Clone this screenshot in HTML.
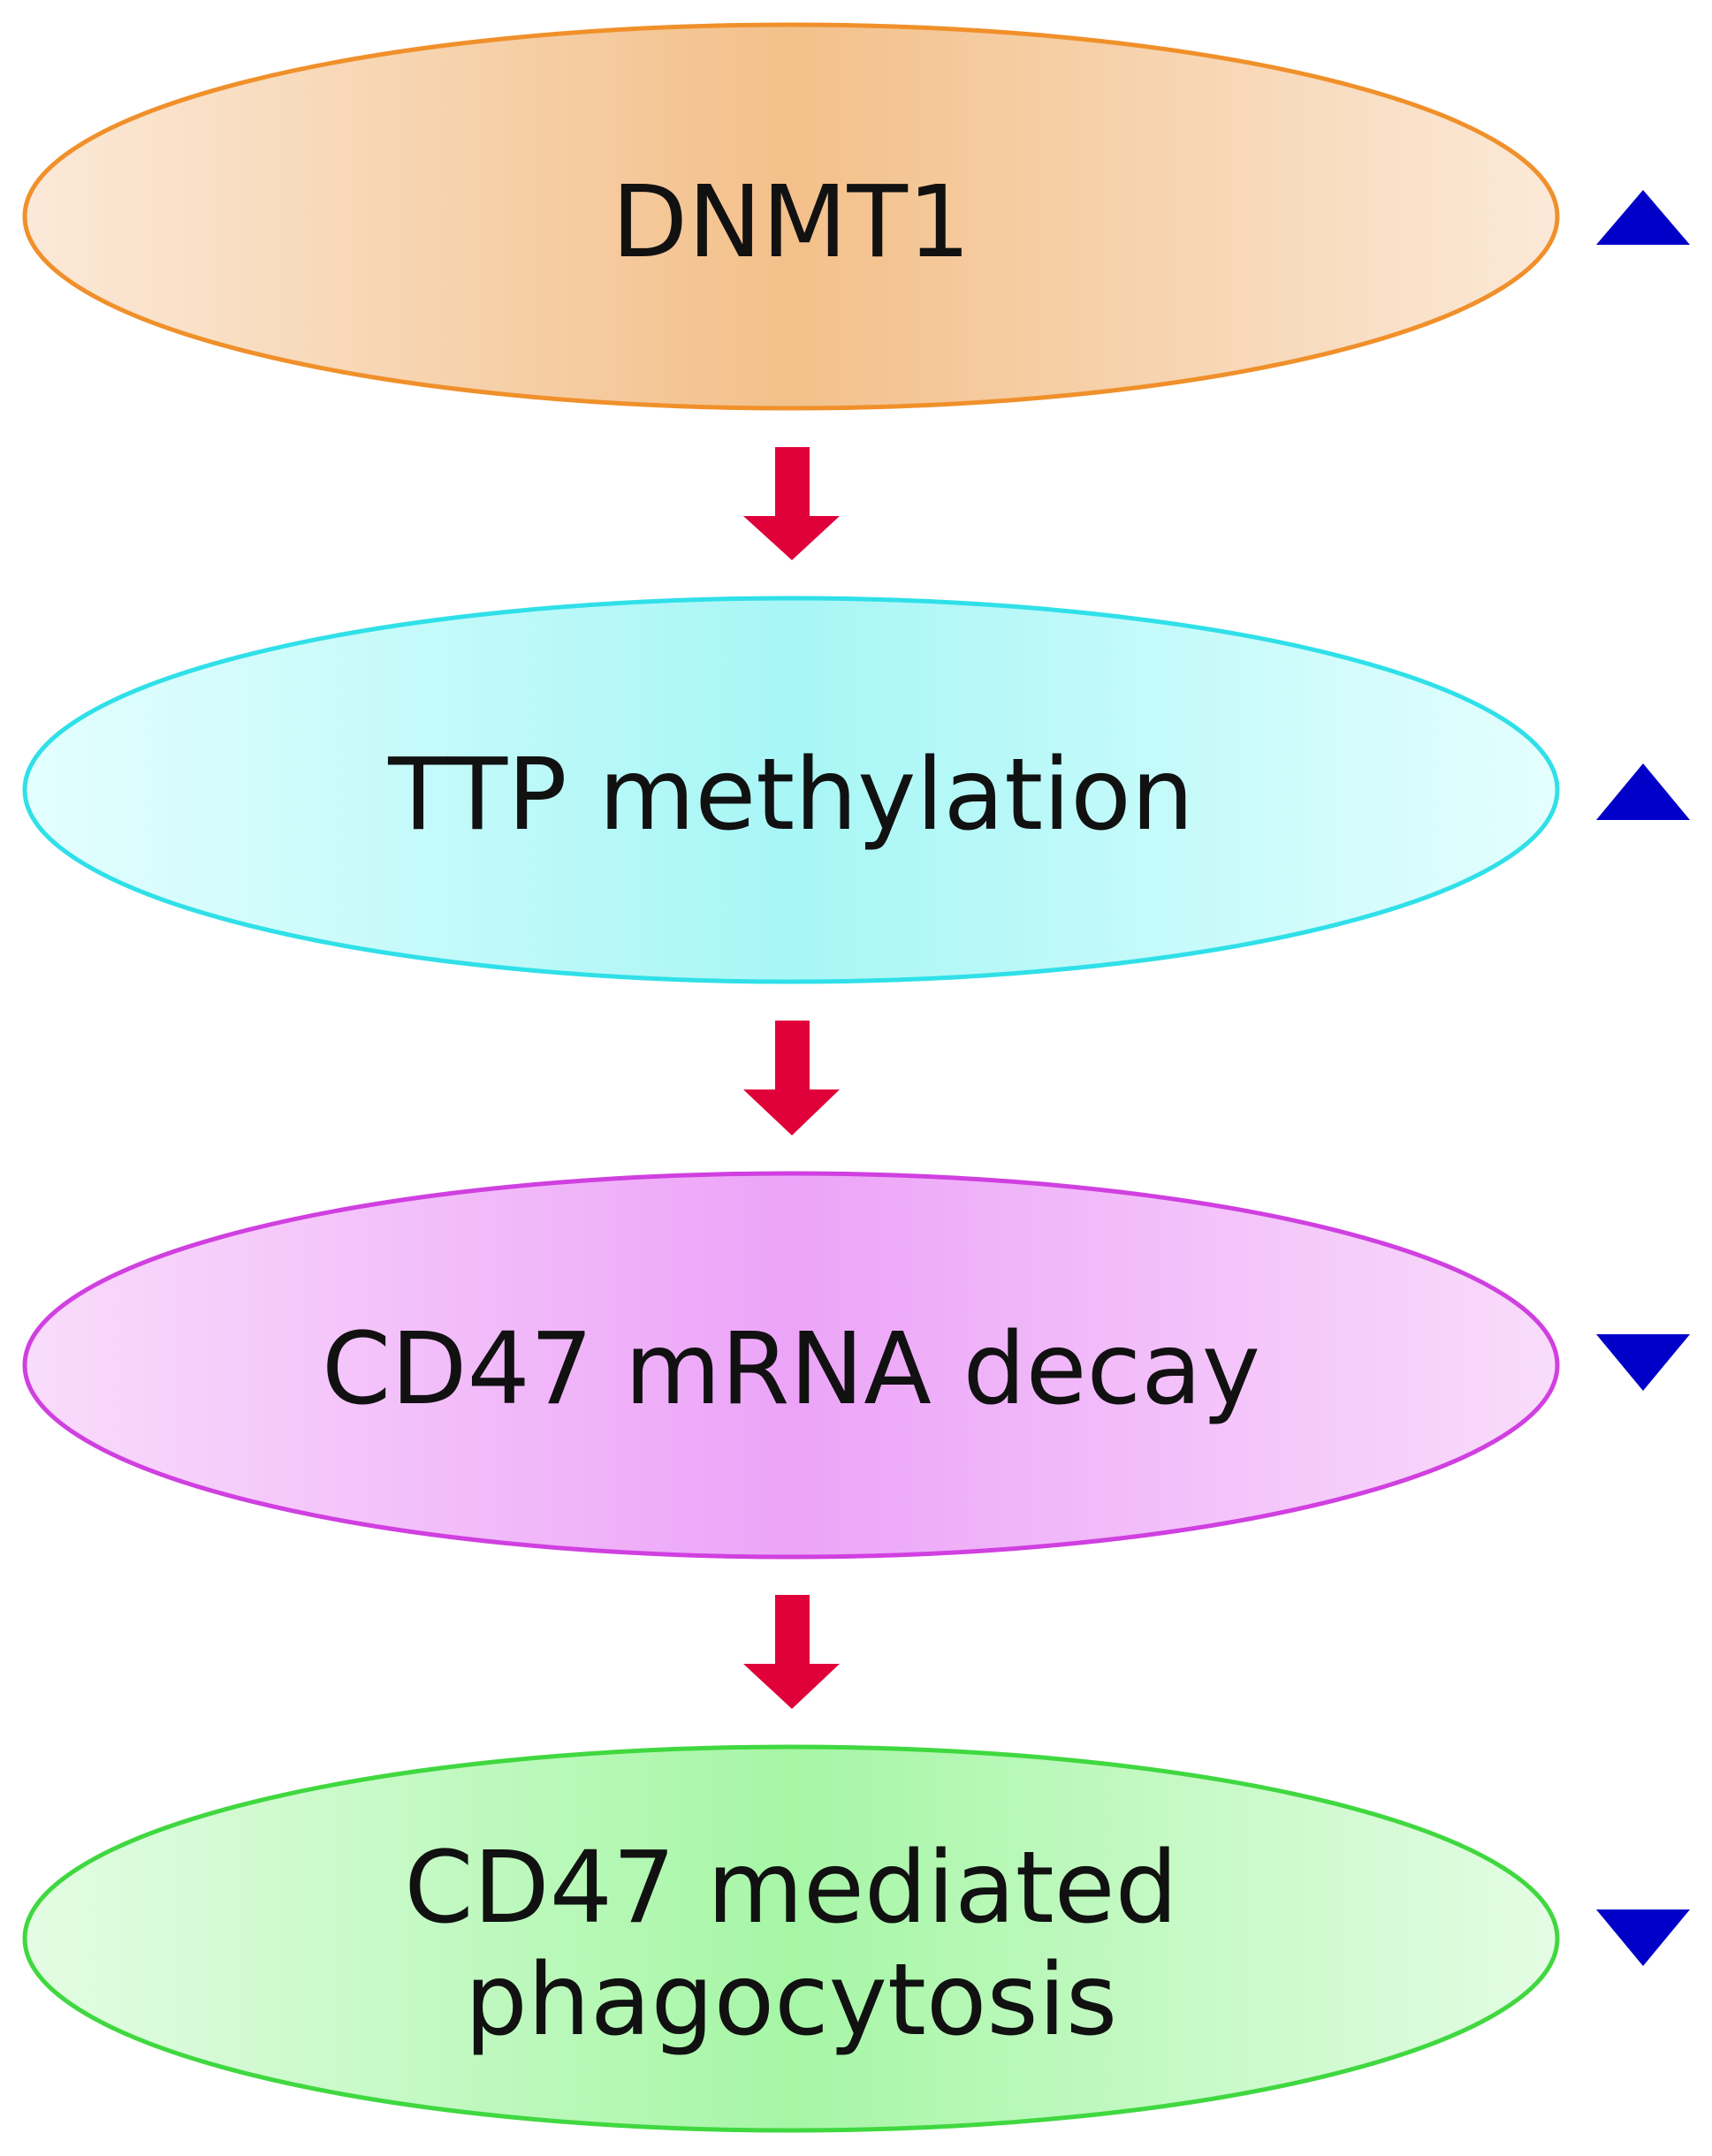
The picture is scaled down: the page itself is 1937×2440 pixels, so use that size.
<!DOCTYPE html>
<html><head><meta charset="utf-8"><style>html,body{margin:0;padding:0;background:#fff}svg{display:block}</style></head><body>
<svg width="1937" height="2440" viewBox="0 0 1937 2440" xmlns="http://www.w3.org/2000/svg">
<defs>
<linearGradient id="g1" x1="0" x2="1" y1="0" y2="0"><stop offset="0" stop-color="#fbe9d8"/><stop offset="0.5" stop-color="#f3c08a"/><stop offset="1" stop-color="#fbe9d8"/></linearGradient>
<linearGradient id="g2" x1="0" x2="1" y1="0" y2="0"><stop offset="0" stop-color="#e4fefe"/><stop offset="0.5" stop-color="#a8f6f6"/><stop offset="1" stop-color="#e4fefe"/></linearGradient>
<linearGradient id="g3" x1="0" x2="1" y1="0" y2="0"><stop offset="0" stop-color="#f9dcfb"/><stop offset="0.5" stop-color="#eca4f8"/><stop offset="1" stop-color="#f9dcfb"/></linearGradient>
<linearGradient id="g4" x1="0" x2="1" y1="0" y2="0"><stop offset="0" stop-color="#e4fce4"/><stop offset="0.5" stop-color="#a6f6a6"/><stop offset="1" stop-color="#e4fce4"/></linearGradient>
</defs>
<g stroke-width="5">
<ellipse cx="895" cy="245" rx="867" ry="217" fill="url(#g1)" stroke="#f0902a"/>
<ellipse cx="895" cy="894" rx="867" ry="217" fill="url(#g2)" stroke="#30e0e8"/>
<ellipse cx="895" cy="1545" rx="867" ry="217" fill="url(#g3)" stroke="#d040e0"/>
<ellipse cx="895" cy="2194" rx="867" ry="217" fill="url(#g4)" stroke="#40d840"/>
</g>
<g fill="#e0003a">
<polygon points="877,506 916,506 916,584 950,584 896,634 841,584 877,584"/>
<polygon points="877,1155 916,1155 916,1233 950,1233 896,1285 841,1233 877,1233"/>
<polygon points="877,1805 916,1805 916,1883 950,1883 896,1934 841,1883 877,1883"/>
</g>
<g fill="#0000c8">
<polygon points="1859,215 1912,277 1806,277"/>
<polygon points="1859,864 1912,928 1806,928"/>
<polygon points="1806,1510 1912,1510 1859,1574"/>
<polygon points="1806,2161 1912,2161 1859,2225"/>
</g>
<g font-family="'DejaVu Sans','Liberation Sans',sans-serif" font-size="112" fill="#111" text-anchor="middle">
<text x="895" y="290">DNMT1</text>
<text x="895" y="938">TTP methylation</text>
<text x="895" y="1588">CD47 mRNA decay</text>
<text x="895" y="2175">CD47 mediated</text>
<text x="895" y="2302">phagocytosis</text>
</g>
</svg>
</body></html>
